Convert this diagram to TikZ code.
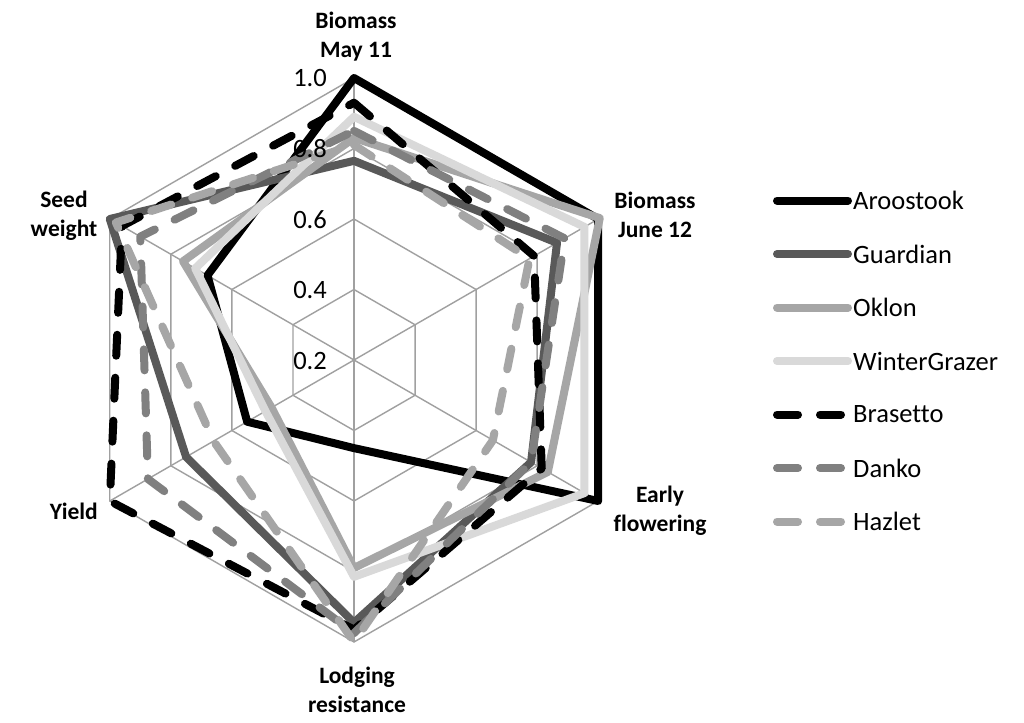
\documentclass[tikz,border=0pt]{standalone}
\usepackage{fontspec}
\setmainfont{Carlito}[Ligatures=NoCommon]
\definecolor{gridc}{HTML}{A0A0A0}
\definecolor{cguard}{HTML}{595959}
\definecolor{coklon}{HTML}{A6A6A6}
\definecolor{cwinter}{HTML}{D9D9D9}
\definecolor{cdanko}{HTML}{808080}
\definecolor{chazlet}{HTML}{A6A6A6}
\newcommand\radarpoly[7]{\draw[#1] (-90:{(#2-0.2)*352.5}) -- (-30:{(#3-0.2)*352.5}) -- (30:{(#4-0.2)*352.5}) -- (90:{(#5-0.2)*352.5}) -- (150:{(#6-0.2)*352.5}) -- (210:{(#7-0.2)*352.5}) -- cycle;}
\begin{document}
\begin{tikzpicture}[x=1pt,y=-1pt,
  series/.style={line width=8pt,line join=round,line cap=round},
  dashser/.style={series,dash pattern=on 21pt off 22pt},
  aroo/.style={series,black},
  guard/.style={series,cguard},
  oklon/.style={series,coklon},
  winter/.style={series,cwinter},
  bras/.style={dashser,black},
  danko/.style={dashser,cdanko},
  hazlet/.style={dashser,chazlet},
  gridline/.style={gridc,line width=1.4pt},
  ticklab/.style={anchor=east,inner sep=0pt,font=\fontsize{26.5}{30}\selectfont},
  axislab/.style={align=center,inner sep=0pt,font=\fontsize{23.5}{29}\selectfont\bfseries},
  leglab/.style={anchor=west,inner sep=0pt,font=\fontsize{26.5}{30}\selectfont}]
\useasboundingbox (0,0) rectangle (1024,722);
\fill[white] (0,0) rectangle (1024,722);
\begin{scope}[shift={(354,360)}]
  % grid
  \foreach \r in {70.5,141,211.5,282}{
    \draw[gridline] (-90:\r) -- (-30:\r) -- (30:\r) -- (90:\r) -- (150:\r) -- (210:\r) -- cycle;
  }
  \foreach \a in {-90,-30,30,90,150,210}{
    \draw[gridline] (0,0) -- (\a:282);
  }
  % series
  \radarpoly{aroo}{1.00}{1.00}{1.00}{0.45}{0.55}{0.68}
  \radarpoly{guard}{0.765}{0.865}{0.78}{0.945}{0.75}{1.00}
  \radarpoly{oklon}{0.83}{1.005}{0.835}{0.79}{0.47}{0.76}
  \radarpoly{winter}{0.89}{0.955}{0.955}{0.815}{0.49}{0.72}
  \radarpoly{bras}{0.93}{0.79}{0.815}{0.965}{1.00}{0.96}
  \radarpoly{danko}{0.85}{0.89}{0.78}{0.975}{0.875}{0.90}
  \radarpoly{hazlet}{0.81}{0.775}{0.655}{1.00}{0.66}{0.98}
\end{scope}
% tick labels
\node[ticklab] (t10) at (327,78) {1.0};
\node[ticklab] (t08) at (327,149) {0.8};
\node[ticklab] (t06) at (327,220) {0.6};
\node[ticklab] (t04) at (327,290) {0.4};
\node[ticklab] (t02) at (327,361) {0.2};
% axis labels
\node[axislab] (lmay) at (356,37) {Biomass\\May 11};
\node[axislab] (ljune) at (655,215) {Biomass\\June 12};
\node[axislab] (lef) at (660,511) {Early\\flowering};
\node[axislab] (llod) at (357,690) {Lodging\\resistance};
\node[axislab,anchor=east] (lyield) at (98,511) {Yield};
\node[axislab] (lseed) at (64,216) {Seed\\weight};
% legend
\foreach \s/\nm/\y in {aroo/Aroostook/200.5,guard/Guardian/254,oklon/Oklon/307.5,winter/WinterGrazer/361,bras/Brasetto/414.5,danko/Danko/468,hazlet/Hazlet/521.5}{
  \coordinate (a\s) at (777,\y);
  \coordinate (b\s) at (848,\y);
  \draw[\s] (a\s) -- (b\s);
  \node[leglab] (n\s) at (853,\y) {\nm};
}
\end{tikzpicture}
\end{document}
